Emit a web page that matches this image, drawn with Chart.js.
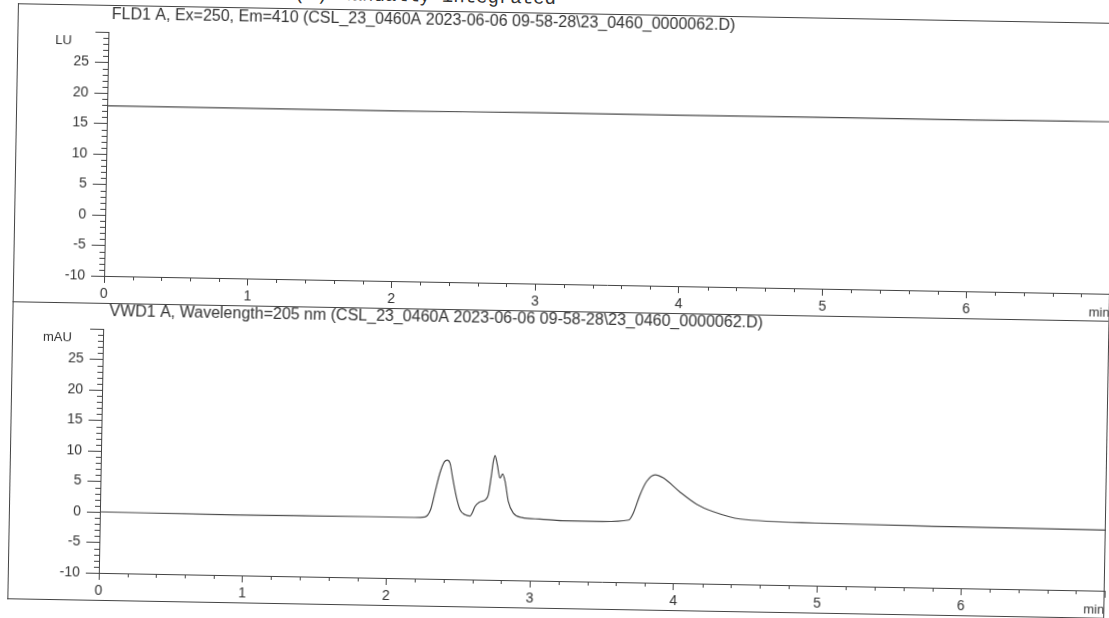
<!DOCTYPE html>
<html>
<head>
<meta charset="utf-8">
<script src="https://cdn.jsdelivr.net/npm/chart.js@4.4.0/dist/chart.umd.min.js"></script>
<style>
html, body { margin:0; padding:0; background:#fff; overflow:hidden; width:1109px; height:618px; }
#sheet { position:absolute; left:0; top:0; width:1140px; height:640px; transform:rotate(1.02deg); transform-origin:0 0; }
.ln { position:absolute; background:#444; }
#hdr { position:absolute; left:248px; top:-20px; font:19px "Liberation Mono", "Courier New", monospace; line-height:19px; color:#333; white-space:pre; }
canvas { position:absolute; left:0; }
</style>
</head>
<body>
<div id="sheet">
  <div id="hdr">Peak(s) manually integrated</div>
  <canvas id="fld" width="1130" height="300" style="top:0px"></canvas>
  <canvas id="vwd" width="1130" height="300" style="top:297px"></canvas>
  <div class="ln" style="left:18px;top:3px;width:1096px;height:1px"></div>
  <div class="ln" style="left:18px;top:3px;width:1px;height:596px"></div>
  <div class="ln" style="left:18px;top:301px;width:1096px;height:1px"></div>
  <div class="ln" style="left:18px;top:598px;width:1096px;height:1px"></div>
  <div class="ln" style="left:1114px;top:3px;width:1px;height:596px"></div>
</div>
<script>
// axis ranges (min)
const timeRange = [0, 7];
const signalRange = [-10, 30];

// FLD1 A trace (LU)
const fldTimes  = [0, 1, 2, 3, 4, 5, 6, 7];
const fldValues = [17.9, 17.9, 17.9, 18.0, 18.0, 18.1, 18.1, 18.2];

// VWD1 A trace (mAU)
const vwdTimes = [0, 0.93, 1.86, 2.19, 2.26, 2.30, 2.33, 2.36, 2.39, 2.41,
  2.43, 2.45, 2.48, 2.505, 2.54, 2.575, 2.59, 2.61, 2.64, 2.68,
  2.70, 2.717, 2.731, 2.742, 2.759, 2.779, 2.797, 2.815, 2.84, 2.876,
  2.935, 3.06, 3.22, 3.50, 3.68, 3.71, 3.756, 3.80, 3.858, 3.916,
  4.03, 4.15, 4.27, 4.455, 5.0, 5.9, 7.0];
const vwdValues = [0.0, -0.1, 0.0, 0.0, 0.1, 1.3, 4.3, 7.3, 9.2, 9.5,
  9.0, 6.6, 3.3, 1.4, 0.6, 0.4, 0.9, 2.0, 2.7, 3.1,
  3.9, 6.7, 9.4, 10.4, 8.9, 6.7, 7.4, 6.2, 2.9, 1.0,
  0.3, 0.1, -0.1, -0.1, 0.2, 1.3, 4.4, 6.6, 7.7, 7.2,
  5.0, 3.0, 1.8, 0.7, 0.25, 0.05, -0.05];

const fldTitle = 'FLD1 A, Ex=250, Em=410 (CSL_23_0460A 2023-06-06 09-58-28\\23_0460_0000062.D)';
const vwdTitle = 'VWD1 A, Wavelength=205 nm (CSL_23_0460A 2023-06-06 09-58-28\\23_0460_0000062.D)';

const FONT = '"Liberation Sans", Arial, sans-serif';

// chemstation style minor ticks + labels
const chemAxes = {
  id: 'chemAxes',
  afterDraw(chart, args, opts) {
    const ctx = chart.ctx, x = chart.scales.x, y = chart.scales.y;
    ctx.save();
    ctx.strokeStyle = '#444';
    ctx.lineWidth = 1;
    ctx.beginPath();
    for (let v = y.min; v <= y.max; v++) {
      if (v % 5 === 0) continue;
      const py = Math.round(y.getPixelForValue(v)) + 0.5;
      ctx.moveTo(x.left - 5, py);
      ctx.lineTo(x.left, py);
    }
    for (let k = x.min * 5; k < x.max * 5; k++) {
      if (k % 5 === 0) continue;
      const px = Math.round(x.getPixelForValue(k / 5)) + 0.5;
      ctx.moveTo(px, y.bottom);
      ctx.lineTo(px, y.bottom + 4);
    }
    ctx.stroke();
    ctx.fillStyle = '#333';
    ctx.textBaseline = 'middle';
    ctx.font = '16px ' + FONT;
    ctx.fillText(opts.title, opts.titleX, 13);
    ctx.font = '13px ' + FONT;
    ctx.fillText(opts.unit, opts.unitX, 39);
    ctx.fillText('min', x.right - 21, y.bottom + 19);
    ctx.restore();
  }
};

function makeChart(id, times, values, title, titleX, unit, unitX) {
  return new Chart(document.getElementById(id), {
    type: 'line',
    data: {
      datasets: [{
        data: times.map((t, i) => ({ x: t, y: values[i] })),
        borderColor: '#4a4a4a',
        borderWidth: 1.2,
        pointRadius: 0,
        cubicInterpolationMode: 'monotone',
        fill: false
      }]
    },
    options: {
      responsive: false,
      animation: false,
      devicePixelRatio: 1,
      layout: { padding: { top: 30, right: 15, left: 0, bottom: 0 } },
      plugins: {
        legend: { display: false },
        tooltip: { enabled: false },
        chemAxes: { title: title, titleX: titleX, unit: unit, unitX: unitX }
      },
      scales: {
        x: {
          type: 'linear',
          min: timeRange[0], max: timeRange[1],
          afterFit: s => { s.height = 26; },
          ticks: { stepSize: 1, padding: 3, maxRotation: 0, color: '#333',
            font: { family: FONT, size: 14 },
            callback: v => v < timeRange[1] ? v : '' },
          grid: { drawOnChartArea: false, tickLength: 7, color: '#444' },
          border: { color: '#444', width: 1 }
        },
        y: {
          min: signalRange[0], max: signalRange[1],
          afterFit: s => { s.width = 109; },
          ticks: { stepSize: 5, padding: 6, color: '#333',
            font: { family: FONT, size: 14 },
            callback: v => v === signalRange[1] ? '' : v },
          grid: { drawOnChartArea: false, tickLength: 13, color: '#444' },
          border: { color: '#444', width: 1 }
        }
      }
    },
    plugins: [chemAxes]
  });
}

makeChart('fld', fldTimes, fldValues, fldTitle, 112, 'LU', 56);
makeChart('vwd', vwdTimes, vwdValues, vwdTitle, 115, 'mAU', 49);
</script>
</body>
</html>
